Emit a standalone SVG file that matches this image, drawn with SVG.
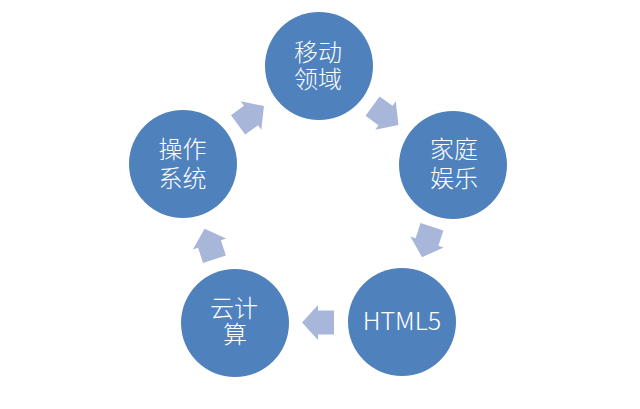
<svg xmlns="http://www.w3.org/2000/svg" xmlns:xlink="http://www.w3.org/1999/xlink" width="640" height="409" viewBox="0 0 640 409">
<style>
.node{fill:#4f81bd;}
.lbl{fill:#ffffff;font-family:"Noto Sans CJK SC","Microsoft YaHei",sans-serif;font-size:24px;font-weight:300;text-anchor:middle;}
.lat{font-size:25px;}
.arr{fill:#a8b6d9;}
</style>
<defs>
<path id="blk" d="M-16,-12 H0 V-17.5 L16,0 L0,17.5 V12 H-16 Z"/>
</defs>
<rect width="640" height="409" fill="#ffffff"/>
<g id="connectors">
<use xlink:href="#blk" class="arr" transform="translate(385.5,115.5) rotate(36)"/>
<use xlink:href="#blk" class="arr" transform="translate(427,242) rotate(108)"/>
<use xlink:href="#blk" class="arr" transform="translate(318,322.5) rotate(180)"/>
<use xlink:href="#blk" class="arr" transform="translate(209.5,244) rotate(252)"/>
<use xlink:href="#blk" class="arr" transform="translate(251,115.5) rotate(324)"/>
</g>
<g id="node-mobile">
<circle class="node" cx="319" cy="66" r="54"/>
<text class="lbl" x="318" y="61">移动<tspan x="318" y="88">领域</tspan></text>
</g>
<g id="node-home">
<circle class="node" cx="453" cy="165" r="54"/>
<text class="lbl" x="454" y="158">家庭<tspan x="454" y="187">娱乐</tspan></text>
</g>
<g id="node-html5">
<circle class="node" cx="402" cy="322" r="54"/>
<text class="lbl lat" x="402" y="330">HTML5</text>
</g>
<g id="node-cloud">
<circle class="node" cx="235" cy="323" r="54"/>
<text class="lbl" x="234" y="317">云计<tspan x="235" y="343">算</tspan></text>
</g>
<g id="node-os">
<circle class="node" cx="183" cy="164" r="54"/>
<text class="lbl" x="182.5" y="158">操作<tspan x="182.5" y="187">系统</tspan></text>
</g>
</svg>
